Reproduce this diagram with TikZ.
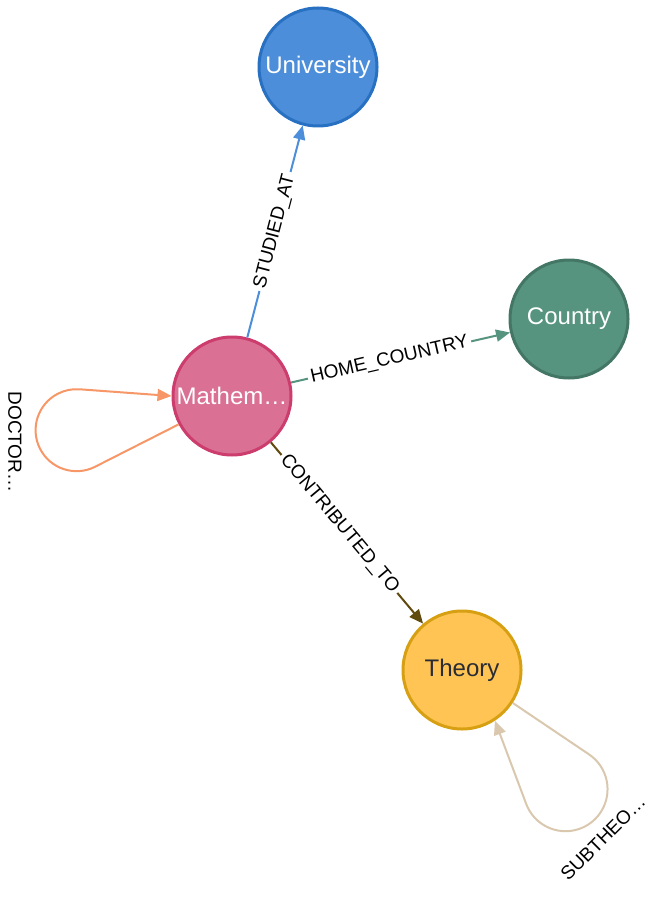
\documentclass[tikz,border=0pt]{standalone}
\usepackage{fontspec}
\setmainfont{Liberation Sans}
\usetikzlibrary{arrows.meta}

\definecolor{uniFill}{HTML}{4C8EDA}
\definecolor{uniLine}{HTML}{2870C2}
\definecolor{countryFill}{HTML}{569480}
\definecolor{countryLine}{HTML}{447666}
\definecolor{mathFill}{HTML}{DA7194}
\definecolor{mathLine}{HTML}{CC3C6C}
\definecolor{theoryFill}{HTML}{FFC454}
\definecolor{theoryLine}{HTML}{D7A013}
\definecolor{theoryText}{HTML}{2A2C34}
\definecolor{studiedCol}{HTML}{4C8EDA}
\definecolor{homeCol}{HTML}{569480}
\definecolor{doctorCol}{HTML}{F79767}
\definecolor{contribCol}{HTML}{604A0E}
\definecolor{subCol}{HTML}{D9C8AE}

\tikzset{
	entity/.style={circle, minimum size=118pt, inner sep=0pt, line width=3pt, text=white, font=\fontsize{24}{28}\selectfont},
	rel/.style={line width=2pt, -{Triangle[length=14pt, width=12pt]}},
	lbl/.style={font=\fontsize{19}{21}\selectfont, text=black, fill=white, inner sep=3pt, sloped},
	looplbl/.style={font=\fontsize{19}{21}\selectfont, text=black, inner sep=0pt}
}

\begin{document}
\begin{tikzpicture}[x=1pt, y=1pt]
	\useasboundingbox (0,0) rectangle (665,-904);

	\node[entity, fill=uniFill, draw=uniLine] (uni) at (318,-67) {University};
	\node[entity, fill=countryFill, draw=countryLine] (country) at (569,-319) {Country};
	\node[entity, fill=mathFill, draw=mathLine] (math) at (232,-396) {Mathem…};
	\node[entity, fill=theoryFill, draw=theoryLine, text=theoryText] (theory) at (462,-670) {Theory};

	\path[rel, studiedCol] (math) edge node[lbl] {STUDIED\_AT} (uni);
	\path[rel, homeCol] (math) edge node[lbl, pos=0.45] {HOME\_COUNTRY} (country);
	\path[rel, contribCol] (math) edge node[lbl, pos=0.45] {CONTRIBUTED\_TO} (theory);

	\coordinate (doctorturn) at (95.2,-466.7);
	\coordinate (subturn) at (588.6,-754.1);

	\draw[rel, doctorCol] (math.208) -- (doctorturn) arc[start angle=297, end angle=86, radius=41] -- (math.180);
	\node[looplbl, rotate=-90] (doctorlbl) at (15,-442) {DOCTOR…};

	\draw[rel, subCol] (theory.-33) -- (subturn) arc[start angle=56.7, end angle=-159, radius=42] -- (theory.-57);
	\node[looplbl, rotate=45] (sublbl) at (603,-838) {SUBTHEO…};

\end{tikzpicture}
\end{document}
